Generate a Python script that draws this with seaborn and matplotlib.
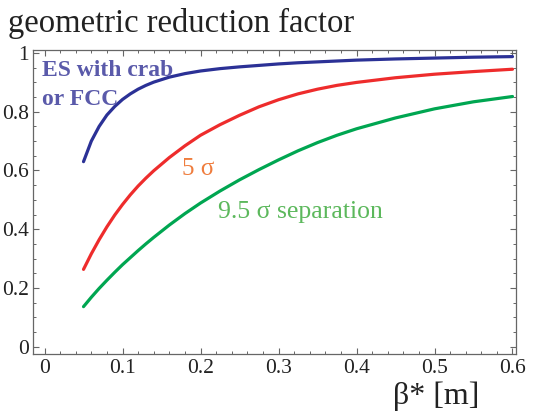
import numpy as np
import pandas as pd
import matplotlib
matplotlib.use("Agg")
import matplotlib.pyplot as plt
import seaborn as sns
from matplotlib.ticker import FixedLocator, MultipleLocator

# -----------------------------
# data
# -----------------------------
beta = [0.05, 0.06, 0.07, 0.08, 0.09, 0.10, 0.11, 0.12, 0.13, 0.14,
        0.16, 0.18, 0.20, 0.225, 0.25, 0.275, 0.30, 0.325, 0.35, 0.375,
        0.40, 0.45, 0.50, 0.55, 0.60]

crab_fcc = [0.630, 0.700, 0.750, 0.789, 0.818, 0.842, 0.861, 0.877, 0.890, 0.901,
            0.918, 0.930, 0.939, 0.947, 0.953, 0.958, 0.963, 0.967, 0.970, 0.973,
            0.976, 0.980, 0.983, 0.986, 0.988]
sep_5 = [0.263, 0.316, 0.364, 0.408, 0.448, 0.484, 0.517, 0.547, 0.574, 0.599,
         0.644, 0.684, 0.720, 0.756, 0.788, 0.817, 0.841, 0.861, 0.877, 0.890,
         0.900, 0.916, 0.928, 0.937, 0.945]
sep_95 = [0.136, 0.168, 0.198, 0.226, 0.253, 0.279, 0.303, 0.327, 0.350, 0.372,
          0.414, 0.453, 0.489, 0.530, 0.568, 0.603, 0.636, 0.667, 0.695, 0.720,
          0.742, 0.779, 0.810, 0.834, 0.852]

x_ticks = [0, 0.1, 0.2, 0.3, 0.4, 0.5, 0.6]
x_tick_labels = ["0", "0.1", "0.2", "0.3", "0.4", "0.5", "0.6"]
y_ticks = [0, 0.2, 0.4, 0.6, 0.8, 1.0]
y_tick_labels = ["0", "0.2", "0.4", "0.6", "0.8", "1"]

df = pd.DataFrame({
    "beta": beta * 3,
    "R": crab_fcc + sep_5 + sep_95,
    "case": ["crab"] * len(beta) + ["5sig"] * len(beta) + ["9.5sig"] * len(beta),
})

palette = {"crab": "#2b3196", "5sig": "#ee2c2c", "9.5sig": "#00a651"}

# -----------------------------
# plot
# -----------------------------
sns.set_theme(style="ticks")
plt.rcParams["font.family"] = ["Liberation Serif", "DejaVu Serif"]

fig = plt.figure(figsize=(5.33, 4.12), dpi=100)
ax = fig.add_axes([0.062, 0.141, 0.907, 0.738])

sns.lineplot(
    data=df,
    x="beta",
    y="R",
    hue="case",
    palette=palette,
    linewidth=2.3,
    legend=False,
    ax=ax
)

ax.set_xlim(-0.0147, 0.6051)
ax.set_ylim(-0.025, 1.011)

ax.xaxis.set_major_locator(FixedLocator(x_ticks))
ax.set_xticklabels(x_tick_labels)
ax.yaxis.set_major_locator(FixedLocator(y_ticks))
ax.set_yticklabels(y_tick_labels)
ax.xaxis.set_minor_locator(MultipleLocator(0.02))
ax.yaxis.set_minor_locator(MultipleLocator(0.05))

ax.tick_params(which="both", direction="in", top=True, right=True,
               color="#666666", labelsize=15.5, labelcolor="#222222")
ax.tick_params(which="major", length=4, width=0.8)
ax.tick_params(which="minor", length=2.2, width=0.7)
ax.tick_params(axis="x", pad=3.5)
ax.tick_params(axis="y", pad=3)

for s in ax.spines.values():
    s.set_color("#666666")
    s.set_linewidth(0.9)

ax.set_xlabel("")
ax.set_ylabel("")

ax.text(-0.0032, 0.923, "ES with crab", color="#5a5aaa", fontsize=17,
        fontweight="bold", va="baseline", ha="left")
ax.text(-0.0032, 0.824, "or FCC", color="#5a5aaa", fontsize=17,
        fontweight="bold", va="baseline", ha="left")
ax.text(0.176, 0.585, "5 σ", color="#ef7d3e", fontsize=18,
        va="baseline", ha="left")
ax.text(0.2228, 0.439, "9.5 σ separation", color="#5cb85c", fontsize=18.5,
        va="baseline", ha="left")

fig.text(0.0156, 0.923, "geometric reduction factor", fontsize=23.5,
         color="#222222", va="baseline", ha="left")
fig.text(0.737, 0.02, "β* [m]", fontsize=23, color="#222222",
         va="baseline", ha="left")

plt.savefig("out.png", dpi=100)
plt.close()
